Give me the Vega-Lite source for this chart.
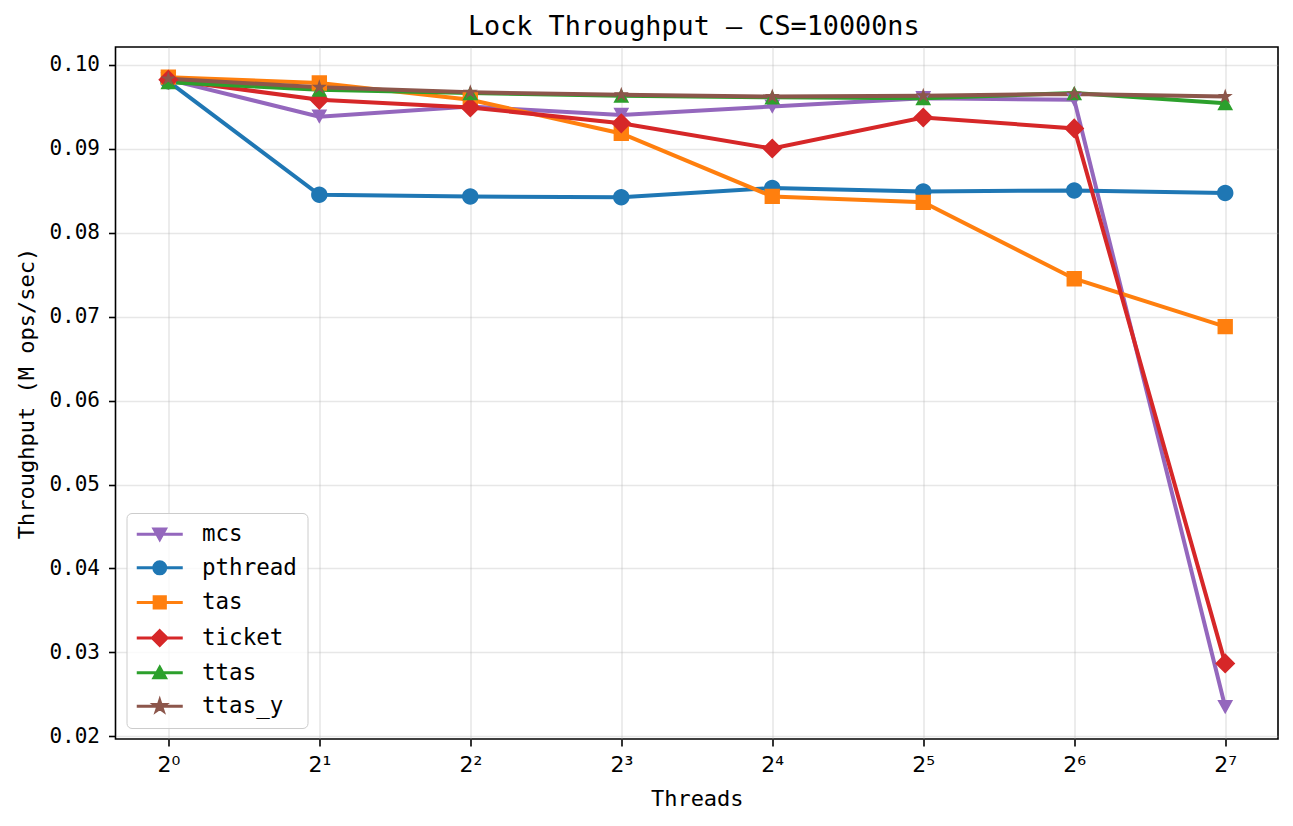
{
  "$schema": "https://vega.github.io/schema/vega-lite/v6.json",
  "autosize": {"type": "none"},
  "padding": {"left": 115.5, "top": 47, "right": 15, "bottom": 87},
  "width": 1162.5,
  "height": 692,
  "background": "white",
  "title": {
    "text": "Lock Throughput — CS=10000ns",
    "font": "DejaVu Sans Mono",
    "fontSize": 26.8,
    "fontWeight": "normal",
    "color": "black",
    "baseline": "alphabetic",
    "offset": 12,
    "dy": 26.8,
    "dx": -3,
    "frame": "group",
    "anchor": "middle"
  },
  "config": {
    "view": {"stroke": "black", "strokeWidth": 1.6},
    "axis": {
      "domain": false,
      "tickColor": "black",
      "tickSize": 7,
      "tickWidth": 1.6,
      "labelFont": "DejaVu Sans Mono",
      "labelFontSize": 21,
      "labelColor": "black",
      "titleFont": "DejaVu Sans Mono",
      "titleFontSize": 22,
      "titleFontWeight": "normal",
      "titleColor": "black",
      "grid": true,
      "gridColor": "#b0b0b0",
      "gridOpacity": 0.3,
      "gridWidth": 1.6
    },
    "legend": {
      "labelFont": "DejaVu Sans Mono",
      "labelFontSize": 22.5,
      "labelColor": "black"
    }
  },
  "data": {
    "values": [
      {"lock": "mcs", "threads": 1, "tp": 0.0982},
      {"lock": "mcs", "threads": 2, "tp": 0.0938},
      {"lock": "mcs", "threads": 4, "tp": 0.0950},
      {"lock": "mcs", "threads": 8, "tp": 0.0940},
      {"lock": "mcs", "threads": 16, "tp": 0.0950},
      {"lock": "mcs", "threads": 32, "tp": 0.0960},
      {"lock": "mcs", "threads": 64, "tp": 0.0958},
      {"lock": "mcs", "threads": 128, "tp": 0.0235},
      {"lock": "pthread", "threads": 1, "tp": 0.0980},
      {"lock": "pthread", "threads": 2, "tp": 0.0845},
      {"lock": "pthread", "threads": 4, "tp": 0.0843},
      {"lock": "pthread", "threads": 8, "tp": 0.0842},
      {"lock": "pthread", "threads": 16, "tp": 0.0853},
      {"lock": "pthread", "threads": 32, "tp": 0.0849},
      {"lock": "pthread", "threads": 64, "tp": 0.0850},
      {"lock": "pthread", "threads": 128, "tp": 0.0847},
      {"lock": "tas", "threads": 1, "tp": 0.0985},
      {"lock": "tas", "threads": 2, "tp": 0.0978},
      {"lock": "tas", "threads": 4, "tp": 0.0958},
      {"lock": "tas", "threads": 8, "tp": 0.0918},
      {"lock": "tas", "threads": 16, "tp": 0.0843},
      {"lock": "tas", "threads": 32, "tp": 0.0836},
      {"lock": "tas", "threads": 64, "tp": 0.0745},
      {"lock": "tas", "threads": 128, "tp": 0.0688},
      {"lock": "ticket", "threads": 1, "tp": 0.0982},
      {"lock": "ticket", "threads": 2, "tp": 0.0958},
      {"lock": "ticket", "threads": 4, "tp": 0.0949},
      {"lock": "ticket", "threads": 8, "tp": 0.0930},
      {"lock": "ticket", "threads": 16, "tp": 0.0900},
      {"lock": "ticket", "threads": 32, "tp": 0.0937},
      {"lock": "ticket", "threads": 64, "tp": 0.0924},
      {"lock": "ticket", "threads": 128, "tp": 0.0287},
      {"lock": "ttas", "threads": 1, "tp": 0.0979},
      {"lock": "ttas", "threads": 2, "tp": 0.0970},
      {"lock": "ttas", "threads": 4, "tp": 0.0966},
      {"lock": "ttas", "threads": 8, "tp": 0.0963},
      {"lock": "ttas", "threads": 16, "tp": 0.0961},
      {"lock": "ttas", "threads": 32, "tp": 0.0960},
      {"lock": "ttas", "threads": 64, "tp": 0.0966},
      {"lock": "ttas", "threads": 128, "tp": 0.0954},
      {"lock": "ttas_y", "threads": 1, "tp": 0.0983},
      {"lock": "ttas_y", "threads": 2, "tp": 0.0973},
      {"lock": "ttas_y", "threads": 4, "tp": 0.0967},
      {"lock": "ttas_y", "threads": 8, "tp": 0.0964},
      {"lock": "ttas_y", "threads": 16, "tp": 0.0962},
      {"lock": "ttas_y", "threads": 32, "tp": 0.0963},
      {"lock": "ttas_y", "threads": 64, "tp": 0.0965},
      {"lock": "ttas_y", "threads": 128, "tp": 0.0962}
    ]
  },
  "encoding": {
    "x": {
      "field": "threads",
      "type": "quantitative",
      "title": "Threads",
      "scale": {"type": "log", "base": 2, "domain": [0.7846, 163.1], "nice": false},
      "axis": {
        "values": [1, 2, 4, 8, 16, 32, 64, 128],
        "labelExpr": "datum.value==1?'2⁰':datum.value==2?'2¹':datum.value==4?'2²':datum.value==8?'2³':datum.value==16?'2⁴':datum.value==32?'2⁵':datum.value==64?'2⁶':'2⁷'",
        "labelFont": "DejaVu Sans",
        "labelFontSize": 22,
        "labelPadding": 8,
        "titlePadding": 13
      }
    },
    "y": {
      "field": "tp",
      "type": "quantitative",
      "title": "Throughput (M ops/sec)",
      "scale": {"domain": [0.0197, 0.10209], "nice": false, "zero": false},
      "axis": {
        "values": [0.02, 0.03, 0.04, 0.05, 0.06, 0.07, 0.08, 0.09, 0.10],
        "format": ".2f",
        "labelPadding": 9,
        "titlePadding": 10
      }
    },
    "color": {
      "field": "lock",
      "type": "nominal",
      "scale": {
        "domain": ["mcs", "pthread", "tas", "ticket", "ttas", "ttas_y"],
        "range": ["#9467bd", "#1f77b4", "#ff7f0e", "#d62728", "#2ca02c", "#8c564b"]
      },
      "legend": {
        "title": null,
        "orient": "bottom-left",
        "offset": 11,
        "padding": 10,
        "rowPadding": 9.6,
        "symbolSize": 64,
        "symbolOffset": 12,
        "labelOffset": 31,
        "strokeColor": "#cccccc",
        "fillColor": "rgba(255,255,255,0.8)",
        "cornerRadius": 5,
        "symbolStrokeWidth": 3,
        "encode": {
          "symbols": {
            "update": {
              "stroke": {"scale": "color", "field": "value"},
              "fill": {"scale": "color", "field": "value"},
              "strokeWidth": {"value": 3},
              "opacity": {"value": 1}
            }
          }
        }
      }
    }
  },
  "layer": [
    {
      "mark": {"type": "line", "strokeWidth": 4}
    },
    {
      "mark": {"type": "point", "filled": true, "opacity": 1, "size": 120, "strokeWidth": 0},
      "encoding": {
        "shape": {
          "field": "lock",
          "type": "nominal",
          "scale": {
            "domain": ["mcs", "pthread", "tas", "ticket", "ttas", "ttas_y"],
            "range": [
              "M-1.44,-1.3L1.44,-1.3L0,1.3Z M-5.75,0L5.75,0",
              "M1.5,0A1.5,1.5,0,1,1,-1.5,0A1.5,1.5,0,1,1,1.5,0Z M-5.75,0L5.75,0",
              "M-1.4,-1.4L1.4,-1.4L1.4,1.4L-1.4,1.4Z M-5.75,0L5.75,0",
              "M0,-1.84L1.84,0L0,1.84L-1.84,0Z M-5.75,0L5.75,0",
              "M-1.44,1.3L1.44,1.3L0,-1.3Z M-5.75,0L5.75,0",
              "M0,-1.45L0.3256,-0.4482L1.379,-0.448L0.5269,0.1712L0.8523,1.1731L0,0.554L-0.8523,1.1731L-0.5269,0.1712L-1.379,-0.448L-0.3256,-0.4482Z M-5.75,0L5.75,0"
            ]
          },
          "legend": {
            "title": null,
            "orient": "bottom-left",
            "offset": 11,
            "padding": 10,
            "rowPadding": 9.6,
            "symbolSize": 64,
            "symbolOffset": 12,
            "labelOffset": 31,
            "strokeColor": "#cccccc",
            "fillColor": "rgba(255,255,255,0.8)",
            "cornerRadius": 5,
            "symbolStrokeWidth": 3,
            "encode": {
              "symbols": {
                "update": {
                  "stroke": {"scale": "color", "field": "value"},
                  "fill": {"scale": "color", "field": "value"},
                  "strokeWidth": {"value": 3},
                  "opacity": {"value": 1}
                }
              }
            }
          }
        }
      }
    }
  ]
}
